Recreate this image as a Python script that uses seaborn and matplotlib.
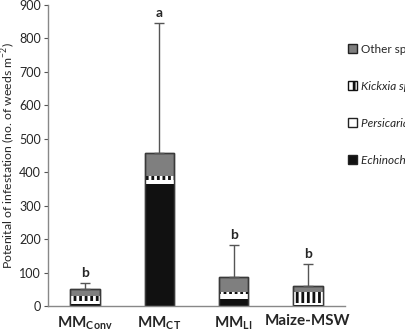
import numpy as np
import pandas as pd
import seaborn as sns
import matplotlib.pyplot as plt
from matplotlib.patches import Patch

# values (no. of weeds m-2)
systems = ['MM_Conv', 'MM_CT', 'MM_LI', 'Maize-MSW']
tick_labels = [r'$\mathbf{MM_{Conv}}$', r'$\mathbf{MM_{CT}}$', r'$\mathbf{MM_{LI}}$', 'Maize-MSW']
echinochloa = [5, 365, 20, 2]
persicaria = [10, 12, 16, 7]
kickxia = [15, 13, 7, 32]
other_sp = [20, 67, 43, 19]
err_top = [69, 845, 181, 126]
letters = ['b', 'a', 'b', 'b']

species = ['Other species', 'Kickxia spp.', 'Persicaria maculosa', 'Echinochloa crus-galli']

sns.set_style('white')
plt.rcParams['font.family'] = ['Lato', 'DejaVu Sans']
plt.rcParams['mathtext.fontset'] = 'custom'
plt.rcParams['mathtext.rm'] = 'Lato'
plt.rcParams['mathtext.bf'] = 'Lato:bold'
plt.rcParams['hatch.linewidth'] = 2.0

df = pd.DataFrame({'system': systems, 'ech': echinochloa, 'per': persicaria,
                   'kic': kickxia, 'oth': other_sp})
df['c1'] = df['ech']
df['c2'] = df['c1'] + df['per']
df['c3'] = df['c2'] + df['kic']
df['c4'] = df['c3'] + df['oth']

fig = plt.figure(figsize=(4.05, 3.35), dpi=100)
ax = fig.add_axes([48 / 405, 29 / 335, 297 / 405, 301 / 335])

w = 0.4
edge = '#3a3a3a'
# stacked bars drawn from the top segment down
sns.barplot(data=df, x='system', y='c4', color='#7f7f7f', width=w, ax=ax,
            edgecolor=edge, linewidth=1, saturation=1)
sns.barplot(data=df, x='system', y='c3', color='white', width=w, ax=ax,
            edgecolor='#111111', linewidth=0, hatch='|||', saturation=1)
sns.barplot(data=df, x='system', y='c2', color='white', width=w, ax=ax,
            edgecolor=edge, linewidth=0, saturation=1)
sns.barplot(data=df, x='system', y='c1', color='#111111', width=w, ax=ax,
            edgecolor=edge, linewidth=0, saturation=1)
# outline of the whole bar
sns.barplot(data=df, x='system', y='c4', fill=False, width=w, ax=ax,
            edgecolor=edge, linewidth=1, saturation=1)

xs = np.arange(len(systems))
up = np.array(err_top) - df['c4'].values
ax.errorbar(xs, df['c4'], yerr=[np.zeros(len(xs)), up], fmt='none',
            ecolor='#555555', elinewidth=1, capsize=3.5, capthick=1)
for x, t, lab in zip(xs, err_top, letters):
    ax.text(x, t + 12, lab, ha='center', va='bottom', fontsize=10, fontweight='bold')

ax.set_xlim(-0.5, 3.5)
ax.set_ylim(0, 900)
ax.set_yticks(range(0, 901, 100))
ax.set_xticks(xs)
ax.set_xticklabels(tick_labels, fontsize=11, fontweight='bold')
ax.tick_params(axis='y', labelsize=9, length=3, color='#555555', direction='out',
               left=True, pad=2)
ax.tick_params(axis='x', length=0, pad=6)
ax.set_xlabel('')
ax.set_ylabel('Potenital of infestation (no. of weeds m$^{-2}$)', fontsize=8.8, labelpad=1)
sns.despine(ax=ax)
for s in ['left', 'bottom']:
    ax.spines[s].set_color('#888888')
    ax.spines[s].set_linewidth(1)

handles = [
    Patch(facecolor='#7f7f7f', edgecolor='#222222', label=species[0]),
    Patch(facecolor='white', edgecolor='#111111', hatch='||', label=species[1]),
    Patch(facecolor='white', edgecolor='#222222', label=species[2]),
    Patch(facecolor='#111111', edgecolor='#222222', label=species[3]),
]
leg = fig.legend(handles=handles, loc='upper left', bbox_to_anchor=(337 / 405, 1 - 33 / 335),
                 frameon=False, fontsize=8.5, handlelength=0.8, handleheight=0.8,
                 handletextpad=0.3, labelspacing=2.2)
for t in leg.get_texts()[1:]:
    t.set_fontstyle('italic')

fig.savefig('out.png', dpi=100)
